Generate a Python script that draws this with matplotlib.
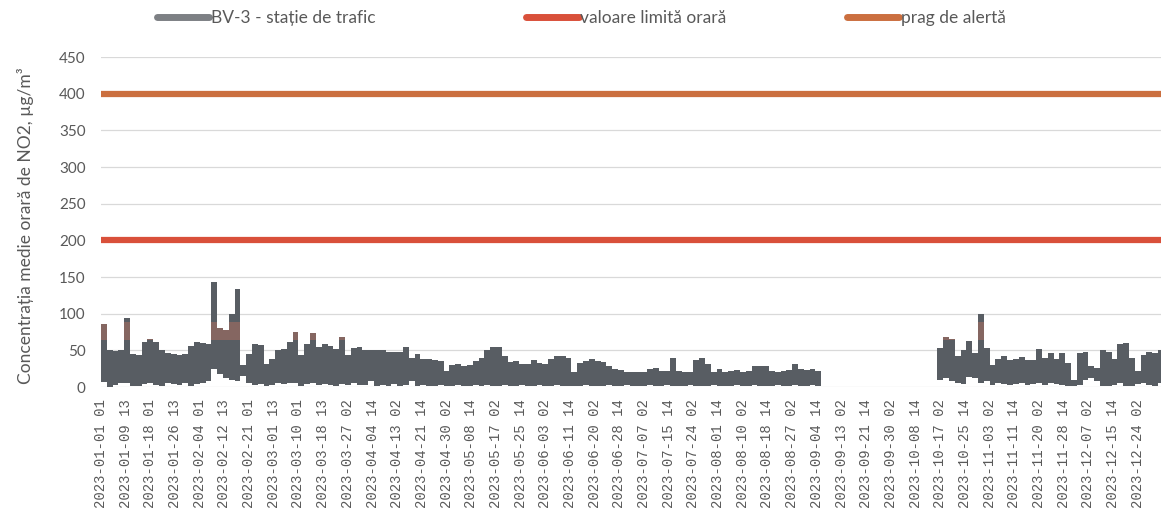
import numpy as np
import matplotlib
matplotlib.use("Agg")
import matplotlib.pyplot as plt
from matplotlib.lines import Line2D

plt.rcParams["font.family"] = ["Lato", "DejaVu Sans"]

# hourly NO2 series summarised in 2-day bins (max / min of each bin), ug/m3
# jan - early sep, then no data until mid oct
high_jan_sep = [86, 50, 49, 50, 94, 45, 44, 62, 66, 62,
                50, 47, 45, 44, 45, 56, 62, 60, 59, 143,
                80, 78, 100, 134, 30, 45, 58, 57, 32, 38,
                51, 52, 62, 75, 43, 58, 73, 55, 59, 56,
                52, 68, 43, 53, 54,
                50, 51, 50, 51, 48, 48, 48, 54, 40, 45,
                38, 38, 37, 35, 22, 30, 31, 29, 30, 35,
                40, 50, 54, 55, 42, 34, 35, 32, 31, 37,
                33, 31, 38, 42, 42, 40, 20, 33, 36, 38,
                35, 34, 28, 24, 23, 21, 20, 21, 21, 24,
                26, 22, 22, 39, 22, 20, 21, 37, 40, 31,
                21, 24, 20, 22, 23, 20, 22, 29, 29, 28,
                22, 21, 22, 23, 31, 24, 23, 24, 22]
low_jan_sep = [7, 0, 3, 5, 6, 2, 1, 4, 5, 3,
               2, 6, 4, 3, 5, 2, 4, 6, 8, 25,
               18, 12, 10, 8, 15, 5, 3, 4, 2, 3,
               5, 4, 6, 5, 2, 4, 5, 3, 4, 3,
               2, 4, 3, 5, 3,
               3, 8, 2, 3, 2, 4, 2, 3, 8, 2,
               3, 2, 2, 3, 1, 2, 3, 2, 2, 3,
               2, 3, 2, 2, 3, 2, 2, 3, 2, 2,
               3, 2, 2, 3, 2, 1, 2, 2, 3, 2,
               2, 2, 3, 2, 2, 3, 2, 2, 2, 3,
               2, 2, 3, 2, 2, 2, 3, 2, 2, 2,
               3, 2, 2, 2, 3, 2, 2, 3, 2, 2,
               2, 3, 2, 2, 3, 2, 2, 3, 2]
missing_bins = 20
high_oct_dec = [53, 68, 66, 42, 50, 63, 46, 100, 53, 30,
                38, 42, 37, 38, 41, 37, 37, 52, 40, 46,
                38, 46, 33, 10, 46, 48, 28, 26, 50, 48,
                38, 58, 60, 40, 22, 44, 48, 46, 50]
low_oct_dec = [10, 12, 8, 5, 4, 14, 12, 6, 8, 3,
               5, 4, 3, 4, 6, 3, 4, 5, 3, 6,
               4, 3, 2, 1, 3, 10, 12, 8, 2, 1,
               3, 5, 2, 1, 4, 6, 3, 2, 5]

bin_hours = 48
year_hours = 8760

limit_value = 200
alert_threshold = 400

tick_step = 204
tick_labels = ["2023-01-01 01", "2023-01-09 13", "2023-01-18 01", "2023-01-26 13",
               "2023-02-04 01", "2023-02-12 13", "2023-02-21 01", "2023-03-01 13",
               "2023-03-10 01", "2023-03-18 13", "2023-03-27 02", "2023-04-04 14",
               "2023-04-13 02", "2023-04-21 14", "2023-04-30 02", "2023-05-08 14",
               "2023-05-17 02", "2023-05-25 14", "2023-06-03 02", "2023-06-11 14",
               "2023-06-20 02", "2023-06-28 14", "2023-07-07 02", "2023-07-15 14",
               "2023-07-24 02", "2023-08-01 14", "2023-08-10 02", "2023-08-18 14",
               "2023-08-27 02", "2023-09-04 14", "2023-09-13 02", "2023-09-21 14",
               "2023-09-30 02", "2023-10-08 14", "2023-10-17 02", "2023-10-25 14",
               "2023-11-03 02", "2023-11-11 14", "2023-11-20 02", "2023-11-28 14",
               "2023-12-07 02", "2023-12-15 14", "2023-12-24 02"]

series_name = "BV-3 - stație de trafic"
limit_name = "valoare limită orară"
alert_name = "prag de alertă"
y_label = "Concentrația medie orară de NO2, µg/m³"

text_color = "#595959"
series_color = "#585d63"
limit_color = "#d9503a"
alert_color = "#cb6f3f"

gap = [np.nan] * missing_bins
high = np.array(high_jan_sep + gap + high_oct_dec, dtype=float)
low = np.array(low_jan_sep + gap + low_oct_dec, dtype=float)
edges = np.minimum(np.arange(len(high) + 1) * bin_hours, year_hours)

fig = plt.figure(figsize=(11.61, 5.28), dpi=100)
ax = fig.add_axes([0.087, 0.267, 0.913, 0.625])

ax.stairs(high, edges, baseline=low, fill=True, color=series_color, lw=0, zorder=3)
# scan shows a reddish tint on the upper part of the peaks
ax.stairs(np.minimum(high, 88), edges, baseline=np.minimum(high, 64), fill=True,
          color="#c9765f", alpha=0.4, lw=0, zorder=4)

ax.axhline(limit_value, color=limit_color, lw=4.5, zorder=2)
ax.axhline(alert_threshold, color=alert_color, lw=4.5, zorder=2)

ax.set_xlim(0, year_hours)
ax.set_ylim(0, 450)
ax.set_yticks(np.arange(0, 451, 50))
ax.grid(axis="y", color="#d9d9d9", lw=0.9, zorder=0)
ax.set_axisbelow(True)
for s in ax.spines.values():
    s.set_visible(False)

ax.set_xticks(np.arange(len(tick_labels)) * tick_step)
ax.set_xticklabels(tick_labels, rotation=90, family="Liberation Mono", fontsize=10,
                   color=text_color)
ax.tick_params(axis="x", length=0, pad=9)
ax.tick_params(axis="y", length=0, pad=11, labelsize=11, labelcolor=text_color)

ax.set_ylabel(y_label, fontsize=12.5, color=text_color, labelpad=8)
ax.yaxis.set_label_coords(-0.063, 0.49)

entries = [(series_name, "#7d8084", 0.122), (limit_name, limit_color, 0.44),
           (alert_name, alert_color, 0.716)]
for name, color, xpos in entries:
    h = Line2D([], [], color=color, lw=5, solid_capstyle="round")
    fig.legend(handles=[h], labels=[name], loc="center left", bbox_to_anchor=(xpos, 0.966),
               frameon=False, handlelength=3.0, handletextpad=0.1, fontsize=12.5,
               labelcolor=text_color)

fig.savefig("out.png", dpi=100)
